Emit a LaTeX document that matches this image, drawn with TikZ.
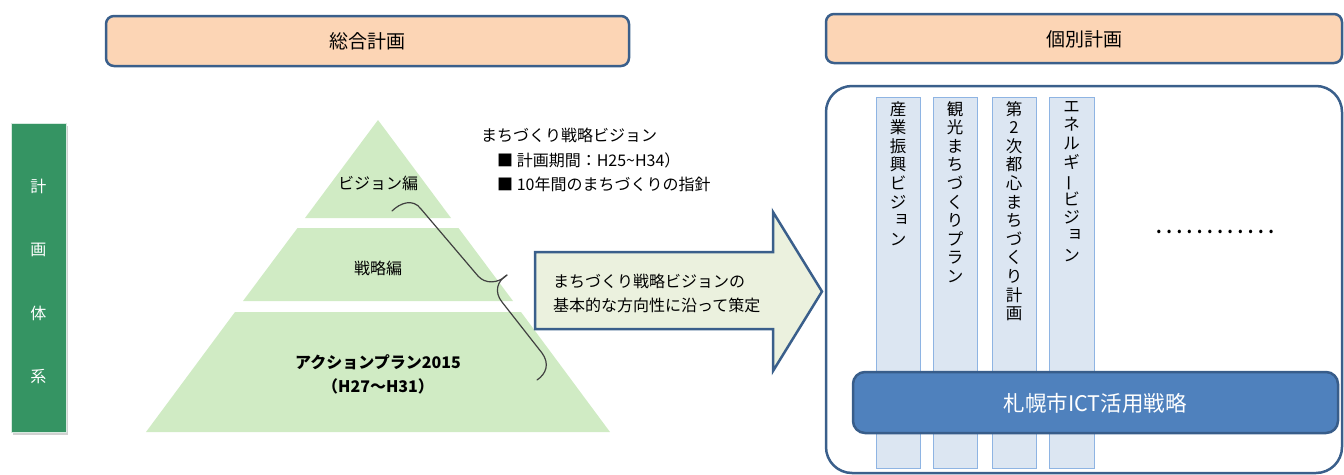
\documentclass[tikz,border=0pt]{standalone}
\usepackage{fontspec}
\usepackage{graphicx}
\setmainfont{Noto Sans CJK JP}
\newfontfamily\vjp{Noto Sans CJK JP}
\definecolor{hdrfill}{RGB}{252,213,181}
\definecolor{navy}{RGB}{58,95,139}
\definecolor{barGreen}{RGB}{53,148,99}
\definecolor{pyr}{RGB}{208,235,196}
\definecolor{arrowfill}{RGB}{235,241,222}
\definecolor{colfill}{RGB}{220,230,242}
\definecolor{coldraw}{RGB}{142,180,227}
\definecolor{ictfill}{RGB}{79,129,189}
\definecolor{ictdraw}{RGB}{56,93,138}
\newcommand\dotcell{\makebox[10.2pt]{\textbf{.}}}
\newcommand\vsk[1]{\kern3.5pt\raisebox{3.5pt}{#1}\kern-3.5pt}
\newcommand\vbar{\rotatebox[origin=c]{90}{ー}}
\tikzset{
  hdr/.style={draw=navy, line width=2.5pt, fill=hdrfill, rounded corners=8pt},
  hdrtext/.style={font=\fontsize{19}{22}\selectfont, text=black},
  pyrtext/.style={font=\fontsize{16}{19}\selectfont, text=black},
  vtext/.style={font=\vjp\fontsize{16.5}{18.6}\selectfont, align=center, anchor=north, inner sep=0pt},
  colbox/.style={draw=coldraw, line width=1pt, fill=colfill},
  gtext/.style={font=\fontsize{16}{19}\selectfont, text=white},
  plain/.style={font=\fontsize{16}{19}\selectfont, text=black, anchor=west, inner sep=0pt},
}
\begin{document}
\begin{tikzpicture}[x=1pt,y=-1pt]
\useasboundingbox (0,0) rectangle (1344,474);

% headers
\draw[hdr] (106,16) rectangle (629,66);
\node[hdrtext] (hsogo) at (367.5,41) {総合計画};
\draw[hdr] (826,14) rectangle (1342,63);
\node[hdrtext] (hkobetsu) at (1084,39) {個別計画};

% green vertical bar
\fill[black!30, opacity=0.6] (13,126) rectangle (68,435);
\draw[draw=white!80!barGreen, line width=1pt, fill=barGreen] (11,123) rectangle (66,432);
\node[gtext] (g1) at (38.5,186) {計};
\node[gtext] (g2) at (38.5,250) {画};
\node[gtext] (g3) at (38.5,313) {体};
\node[gtext] (g4) at (38.5,377) {系};

% pyramid
\fill[pyr] (378,120) -- (451,218) -- (305,218) -- cycle;
\fill[pyr] (297.5,228) -- (458.5,228) -- (513,301) -- (243,301) -- cycle;
\fill[pyr] (235,312) -- (521,312) -- (610,432) -- (146,432) -- cycle;
\node[pyrtext] (p1) at (378,183) {ビジョン編};
\node[pyrtext] (p2) at (378,268) {戦略編};
\node[pyrtext, font=\bfseries\fontsize{16}{19}\selectfont] (p3) at (378,362) {アクションプラン2015};
\node[pyrtext, font=\bfseries\fontsize{16}{19}\selectfont] (p4) at (378,386) {（H27〜H31）};

% brace
\draw[black!75, line width=1.2pt, line cap=round]
  (392,211) .. controls (400,203) and (413,198) .. (421,209) -- (478,276)
  .. controls (485,284) and (498,284) .. (507,275);
\draw[black!75, line width=1.2pt, line cap=round]
  (507,275) .. controls (497,281) and (494,292) .. (502,302) -- (542,353)
  .. controls (550,364) and (546,374) .. (537,380);

% vision text
\node[plain] (v0) at (481,135) {まちづくり戦略ビジョン};
\node[plain] (v1) at (497,160) {■ 計画期間：H25\textasciitilde H34）};
\node[plain] (v2) at (497,184) {■ 10年間のまちづくりの指針};

% arrow
\draw[draw=navy, line width=2.5pt, fill=arrowfill, line join=miter]
  (535,252) -- (773,252) -- (773,212) -- (822,291.5) -- (773,371) -- (773,329) -- (535,329) -- cycle;
\node[plain] (a1) at (553,281) {まちづくり戦略ビジョンの};
\node[plain] (a2) at (553,305) {基本的な方向性に沿って策定};

% right frame
\draw[draw=navy, line width=2.5pt, rounded corners=26pt] (826,86) rectangle (1342,473);

% columns
\draw[colbox] (876,97) rectangle (920,468);
\draw[colbox] (933,97) rectangle (977,468);
\draw[colbox] (992,97) rectangle (1036,468);
\draw[colbox] (1049,97) rectangle (1094,468);
\node[vtext] (c1) at (898,101) {産\\業\\振\\興\\ビ\\ジ\\\vsk{ョ}\\ン};
\node[vtext] (c2) at (955,101) {観\\光\\ま\\ち\\づ\\く\\り\\プ\\ラ\\ン};
\node[vtext] (c3) at (1014,101) {第\\2\\次\\都\\心\\ま\\ち\\づ\\く\\り\\計\\画};
\node[vtext] (c4) at (1071.5,101) {エ\\ネ\\ル\\ギ\\\vbar\\ビ\\ジ\\\vsk{ョ}\\ン};

\node[font=\fontsize{16}{19}\selectfont, inner sep=0pt] (dots) at (1215,232) {\dotcell\dotcell\dotcell\dotcell\dotcell\dotcell\dotcell\dotcell\dotcell\dotcell\dotcell\dotcell};

% ICT bar
\draw[draw=ictdraw, line width=2.5pt, fill=ictfill, rounded corners=12pt] (853,372) rectangle (1338,433);
\node[font=\fontsize{21.5}{25}\selectfont, text=white] (ict) at (1095,403) {札幌市ICT活用戦略};
\end{tikzpicture}
\end{document}
